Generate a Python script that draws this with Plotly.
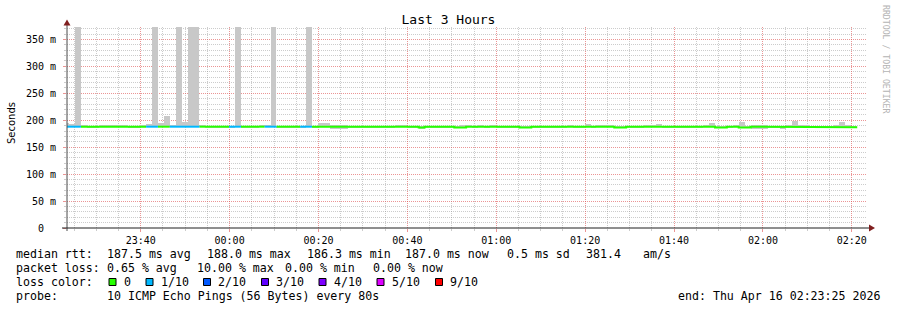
import plotly.graph_objects as go
from datetime import datetime, timedelta

# ---------------- data ----------------
TITLE = "Last 3 Hours"
Y_TITLE = "Seconds"
WATERMARK = "RRDTOOL / TOBI OETIKER"
RANGE_START = "2026-04-15 23:23:25"
RANGE_END = "2026-04-16 02:23:25"
FIRST_STEP = "2026-04-15 23:22:33"
STEP_SECONDS = 80

median_ms = [
    188.0, 188.0, 188.0, 188.0, 188.0, 188.0, 188.0, 188.0, 188.0, 188.0,
    188.0, 188.0, 188.0, 188.0, 188.0, 188.0, 188.0, 188.0, 188.0, 188.0,
    188.0, 188.0, 188.0, 188.0, 188.0, 188.0, 188.0, 188.0, 188.0, 188.0,
    188.0, 188.0, 188.0, 188.0, 188.0, 188.0, 188.0, 188.0, 188.0, 188.0,
    188.0, 188.0, 188.0, 188.0, 188.0, 188.0, 188.0, 188.0, 188.0, 188.0,
    188.0, 188.0, 188.0, 188.0, 188.0, 188.0, 188.0, 188.0, 188.0, 188.0,
    186.3, 188.0, 188.0, 188.0, 188.0, 188.0, 186.3, 186.3, 188.0, 188.0,
    188.0, 188.0, 188.0, 188.0, 188.0, 188.0, 188.0, 186.3, 186.3, 188.0,
    188.0, 188.0, 188.0, 188.0, 188.0, 188.0, 188.0, 188.0, 188.0, 188.0,
    188.0, 188.0, 188.0, 186.3, 186.3, 188.0, 188.0, 188.0, 188.0, 188.0,
    188.0, 188.0, 188.0, 188.0, 188.0, 188.0, 188.0, 188.0, 188.0, 188.0,
    186.3, 186.3, 188.0, 188.0, 186.3, 186.3, 188.0, 188.0, 188.0, 188.0,
    188.0, 188.0, 188.0, 188.0, 188.0, 188.0, 188.0, 188.0, 188.0, 188.0,
    188.0, 188.0, 188.0, 187.0,
]

loss_count = [
    1, 1, 1, 0, 0, 0, 0, 0, 0, 0,
    0, 0, 0, 0, 1, 1, 0, 0, 1, 1,
    1, 1, 1, 0, 0, 0, 0, 0, 1, 1,
    0, 0, 0, 0, 1, 1, 0, 0, 0, 0,
    1, 1, 0, 0, 0, 0, 0, 0, 0, 0,
    0, 0, 0, 0, 0, 0, 0, 0, 0, 0,
    0, 0, 0, 0, 0, 0, 0, 0, 0, 0,
    0, 0, 0, 0, 0, 0, 0, 0, 0, 0,
    0, 0, 0, 0, 0, 0, 0, 0, 0, 0,
    0, 0, 0, 0, 0, 0, 0, 0, 0, 0,
    0, 0, 0, 0, 0, 0, 0, 0, 0, 0,
    0, 0, 0, 0, 0, 0, 0, 0, 0, 0,
    0, 0, 0, 0, 0, 0, 0, 0, 0, 0,
    0, 0, 0, 0,
]

smoke_hi_ms = [
    194, 193, 380, 191, 189, 189, 191, 191, 191, 191,
    191, 189, 189, 191, 193, 380, 195, 207, 191, 380,
    197, 380, 380, 192, 189, 189, 189, 189, 189, 380,
    189, 189, 189, 191, 191, 380, 189, 189, 189, 189,
    189, 380, 189, 194.5, 194.5, 191, 192, 191, 189, 189,
    189, 189, 189, 189, 189, 189, 191, 191, 189, 189,
    189, 189, 189, 189, 189, 189, 189, 192, 192, 189,
    192, 189, 192, 189, 189, 189, 190, 189, 189, 189,
    189, 189, 189, 189, 189, 192, 189, 189, 193.5, 189,
    192, 192, 192, 189, 189, 189, 189, 189, 191, 191,
    192.5, 189, 189, 189, 189, 189, 189, 189, 191, 194,
    189, 189, 189, 192, 196, 189, 191, 191, 191, 189,
    189, 189, 192, 198.5, 191, 191, 189, 189, 189, 189,
    191, 196, 192, 189,
]

smoke_lo_ms = [
    187, 187, 187, 187, 187, 187, 187, 187, 187, 187,
    187, 187, 187, 187, 187, 187, 187, 187, 187, 187,
    187, 187, 187, 187, 187, 187, 187, 187, 187, 187,
    187, 187, 187, 187, 187, 187, 187, 187, 187, 187,
    187, 187, 187, 187, 187, 184, 184, 184, 187, 187,
    187, 187, 187, 187, 187, 187, 187, 187, 187, 187,
    184.5, 187, 187, 187, 187, 187, 185, 185, 187, 187,
    187, 187, 187, 187, 187, 187, 187, 185, 185, 187,
    187, 187, 187, 187, 187, 187, 187, 187, 187, 187,
    187, 187, 187, 185, 185, 187, 187, 187, 187, 187,
    187, 187, 187, 187, 187, 187, 187, 187, 187, 187,
    185, 185, 187, 187, 185, 185, 184, 184, 184, 187,
    187, 184, 187, 187, 187, 187, 187, 187, 187, 187,
    187, 187, 187, 187,
]

y_tick_vals = [0, 50, 100, 150, 200, 250, 300, 350]
y_tick_text = ["0\u00a0\u00a0", "50 m", "100 m", "150 m", "200 m", "250 m", "300 m", "350 m"]
x_tick_vals = ["2026-04-15 23:40:00", "2026-04-16 00:00:00", "2026-04-16 00:20:00",
               "2026-04-16 00:40:00", "2026-04-16 01:00:00", "2026-04-16 01:20:00",
               "2026-04-16 01:40:00", "2026-04-16 02:00:00", "2026-04-16 02:20:00"]
x_tick_text = ["23:40", "00:00", "00:20", "00:40", "01:00", "01:20", "01:40", "02:00", "02:20"]

loss_levels = [0, 1, 2, 3, 4, 5, 9]
loss_colors = ["#26ff00", "#00b8ff", "#0059ff", "#5e00ff", "#7e00ff", "#dd00ff", "#ff0000"]
loss_labels = ["0", "1/10", "2/10", "3/10", "4/10", "5/10", "9/10"]

median_fields = ["median rtt:", "187.5 ms avg", "188.0 ms max", "186.3 ms min",
                 "187.0 ms now", "0.5 ms sd", "381.4", "am/s"]
loss_fields = ["packet loss:", "0.65 % avg", "10.00 % max", "0.00 % min", "0.00 % now"]
loss_color_label = "loss color:"
probe_label = "probe:"
probe_text = "10 ICMP Echo Pings (56 Bytes) every 80s"
end_text = "end: Thu Apr 16 02:23:25 2026"

# ---------------- layout geometry ----------------
W, H = 897, 310
PL, PR, PT, PB = 67, 867, 27, 228
MONO = "DejaVu Sans Mono"


def px(x):
    return (x - PL) / (PR - PL)


def py(y):
    return (PB - y) / (PB - PT)


t0 = datetime.fromisoformat(FIRST_STEP)
n = len(median_ms)
starts = [t0 + timedelta(seconds=STEP_SECONDS * i) for i in range(n)]
ends = [s + timedelta(seconds=STEP_SECONDS) for s in starts]
centers = [s + timedelta(seconds=STEP_SECONDS / 2) for s in starts]

# minor grid positions (every 5 min / 10 ms), skipping the major ones
g = datetime.fromisoformat("2026-04-15 23:25:00")
x_minor = []
while g <= datetime.fromisoformat(RANGE_END):
    if g.minute % 20 != 0:
        x_minor.append(g)
    g += timedelta(minutes=5)
y_minor = [v for v in range(10, 373, 10) if v % 50 != 0]

fig = go.Figure()

# smoke
fig.add_trace(go.Bar(
    x=centers,
    y=[h - l for h, l in zip(smoke_hi_ms, smoke_lo_ms)],
    base=smoke_lo_ms,
    width=STEP_SECONDS * 1000,
    marker=dict(color="#c8c8c8", line=dict(width=0)),
    hoverinfo="skip",
    showlegend=False,
))

# median line coloured by loss
for lvl, col in zip(loss_levels, loss_colors):
    xs, ys = [], []
    for i in range(n):
        if loss_count[i] != lvl:
            continue
        xs += [starts[i], ends[i]]
        ys += [median_ms[i], median_ms[i]]
        if i + 1 >= n or loss_count[i + 1] != lvl:
            xs.append(None)
            ys.append(None)
    if xs:
        fig.add_trace(go.Scatter(x=xs, y=ys, mode="lines",
                                 line=dict(color=col, width=2),
                                 hoverinfo="skip", showlegend=False))

MAJOR_GRID = "rgba(222,79,79,0.6)"
MINOR_GRID = "rgba(143,143,143,0.45)"
DOTS = "1px,1px"

fig.update_layout(
    width=W, height=H,
    margin=dict(l=PL, r=W - PR, t=PT, b=H - PB, pad=0),
    paper_bgcolor="white", plot_bgcolor="white",
    bargap=0,
    showlegend=False,
    font=dict(family=MONO, size=10, color="black"),
    title=dict(text=TITLE, x=0.5, xref="container", xanchor="center",
               y=1 - 19 / H, yref="container", yanchor="middle",
               font=dict(family=MONO, size=13, color="black")),
    xaxis=dict(
        type="date",
        range=[RANGE_START, RANGE_END],
        tickmode="array", tickvals=x_tick_vals, ticktext=x_tick_text,
        showgrid=True, gridcolor=MAJOR_GRID, griddash=DOTS, gridwidth=1,
        ticks="outside", ticklen=3, tickcolor=MAJOR_GRID,
        tickfont=dict(family=MONO, size=10, color="black"),
        showline=False, zeroline=False,
        minor=dict(tickmode="array", tickvals=x_minor,
                   showgrid=True, gridcolor=MINOR_GRID, griddash=DOTS,
                   ticks="outside", ticklen=2, tickcolor=MINOR_GRID),
        fixedrange=True,
    ),
    yaxis=dict(
        range=[0, 373],
        tickmode="array", tickvals=y_tick_vals, ticktext=y_tick_text,
        showgrid=True, gridcolor=MAJOR_GRID, griddash=DOTS, gridwidth=1,
        ticks="outside", ticklen=3, tickcolor=MAJOR_GRID,
        ticklabelstandoff=5,
        tickfont=dict(family=MONO, size=10, color="#000000"),
        showline=False, zeroline=False,
        minor=dict(tickmode="array", tickvals=y_minor, showgrid=True,
                   gridcolor=MINOR_GRID, griddash=DOTS, ticks="outside",
                   ticklen=2, tickcolor=MINOR_GRID),
        fixedrange=True,
    ),
)

ARROW = "#801f1f"
shapes = []
# y axis line and arrow
shapes.append(dict(type="line", xref="paper", yref="paper",
                   x0=px(67), x1=px(67), y0=py(231), y1=py(22),
                   line=dict(color="#4a4a4a", width=1), layer="above"))
shapes.append(dict(type="path", xref="paper", yref="paper",
                   path=f"M {px(63.5)} {py(25.5)} L {px(70.5)} {py(25.5)} L {px(67)} {py(19.5)} Z",
                   fillcolor=ARROW, line=dict(width=0), layer="above"))
# x axis line and arrow
shapes.append(dict(type="line", xref="paper", yref="paper",
                   x0=px(62), x1=px(870), y0=py(228), y1=py(228),
                   line=dict(color="#1f1f1f", width=1), layer="above"))
shapes.append(dict(type="path", xref="paper", yref="paper",
                   path=f"M {px(869)} {py(224.5)} L {px(869)} {py(231.5)} L {px(875)} {py(228)} Z",
                   fillcolor=ARROW, line=dict(width=0), layer="above"))

annotations = []
LEG = 11.6


def txt(x, y, s, anchor="left", size=LEG, color="black", angle=0, family=MONO):
    annotations.append(dict(x=px(x), y=py(y), xref="paper", yref="paper",
                            text=s, showarrow=False, xanchor=anchor, yanchor="middle",
                            textangle=angle, borderpad=0,
                            font=dict(family=family, size=size, color=color)))


# axis title and watermark
txt(11, 123, Y_TITLE, anchor="center", size=10, angle=-90, family="DejaVu Sans")
txt(886, 59, WATERMARK, anchor="center", size=8.2, color="#b4b4b4", angle=90)

# legend rows
row_y = [254, 268, 282, 296]
med_x = [15, 106, 206, 306, 404, 506, 585, 642]
for x, s in zip(med_x, median_fields):
    txt(x, row_y[0], s)
loss_x = [15, 106, 196, 284, 372]
for x, s in zip(loss_x, loss_fields):
    txt(x, row_y[1], s)
txt(15, row_y[2], loss_color_label)
sq_x = [109, 146, 203.5, 261.5, 319, 377, 435.5]
for sx, col, lab in zip(sq_x, loss_colors, loss_labels):
    shapes.append(dict(type="rect", xref="paper", yref="paper",
                       x0=px(sx), x1=px(sx + 7), y0=py(278.5), y1=py(285.5),
                       fillcolor=col, line=dict(color="black", width=1), layer="above"))
    txt(sx + 13.5, row_y[2], lab)
txt(15, row_y[3], probe_label)
txt(106, row_y[3], probe_text)
txt(677, row_y[3], end_text)

fig.update_layout(shapes=shapes, annotations=annotations)

fig.write_html("out.html")
